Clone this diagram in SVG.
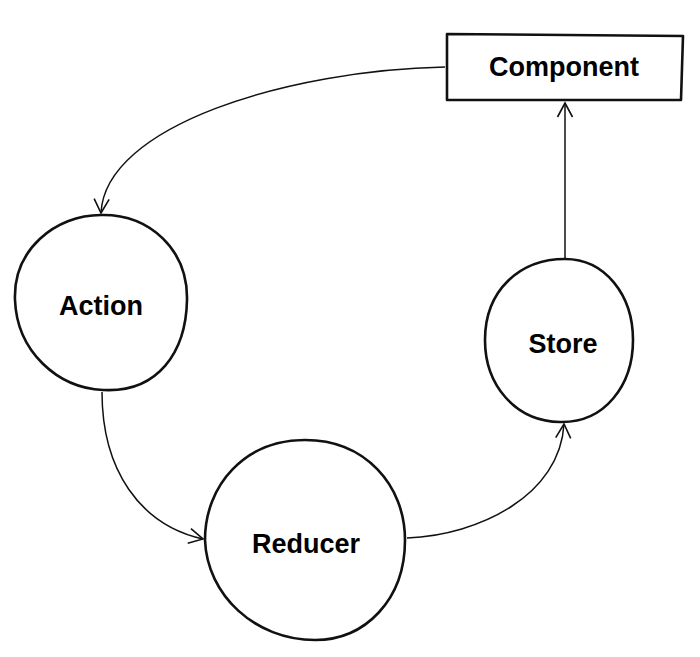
<svg xmlns="http://www.w3.org/2000/svg" width="700" height="657" viewBox="0 0 700 657">
<style>
.shape{fill:#fff;stroke:#111;stroke-width:2.6;stroke-linejoin:round}
.lbl{font-family:"Liberation Sans",Arial,sans-serif;font-weight:bold;font-size:27px;fill:#000;text-anchor:middle}
.conn{fill:none;stroke:#111;stroke-width:1.5}
</style>
<defs>
<marker id="arr" viewBox="-16 -9 18 18" refX="0" refY="0" markerWidth="18" markerHeight="18" markerUnits="userSpaceOnUse" orient="auto">
<path d="M-14,-7.5 L0,0 L-14,7.5" fill="none" stroke="#111" stroke-width="1.6"/>
</marker>
</defs>
<rect width="700" height="657" fill="#fff"/>
<g id="connectors">
<path class="conn" d="M445,67 C290,70 105,125 101,213" marker-end="url(#arr)"/>
<path class="conn" d="M102,392 C102,470 140,525 203,539" marker-end="url(#arr)"/>
<path class="conn" d="M407,538 C480,535 560,495 564,424" marker-end="url(#arr)"/>
<path class="conn" d="M565,258 L565,103" marker-end="url(#arr)"/>
</g>
<g id="component">
<path class="shape" d="M447,34 L683,36 L681,100 L447,100 Z"/>
<text class="lbl" x="564" y="76">Component</text>
</g>
<g id="action">
<path class="shape" d="M101,215 C150,214 188,250 187,300 C186,352 158,393 103,390 C58,388 17,352 15,300 C13,250 55,215 101,215 Z"/>
<text class="lbl" x="101" y="315">Action</text>
</g>
<g id="store">
<path class="shape" d="M565,259 C605,259 633,295 633,340 C633,385 605,423 560,422 C515,421 485,385 485,340 C485,290 520,259 565,259 Z"/>
<text class="lbl" x="563" y="353">Store</text>
</g>
<g id="reducer">
<path class="shape" d="M305,440 C365,440 405,485 405,540 C405,600 365,640 315,640 C255,640 207,595 205,540 C205,485 245,440 305,440 Z"/>
<text class="lbl" x="306" y="553">Reducer</text>
</g>
</svg>
